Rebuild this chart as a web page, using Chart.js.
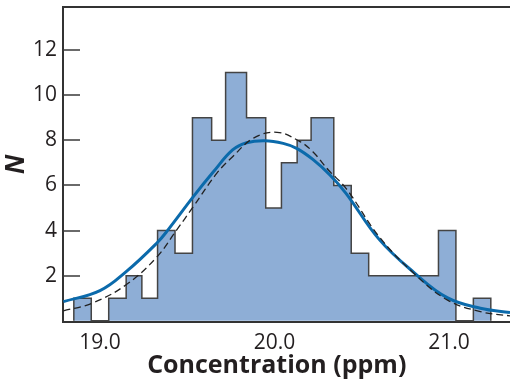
<!DOCTYPE html>
<html>
<head>
<meta charset="utf-8">
<script src="https://cdn.jsdelivr.net/npm/chart.js@4.4.0/dist/chart.umd.min.js"></script>
<style>
  html, body { margin: 0; padding: 0; background: #fff; }
</style>
</head>
<body>
<canvas id="chart" width="510" height="385"></canvas>
<script>
// Histogram: bin edges (ppm) and number of results in each bin
const binEdges = [18.85, 18.95, 19.05, 19.15, 19.24, 19.33, 19.43, 19.53, 19.64, 19.72, 19.84,
                  19.95, 20.04, 20.13, 20.21, 20.34, 20.44, 20.54, 20.94, 21.04, 21.14, 21.24];
const binCounts = [1, 0, 1, 2, 1, 4, 3, 9, 8, 11, 9, 5, 7, 8, 9, 6, 3, 2, 4, 0, 1];

// Solid blue curve
const fitX = [18.79, 19.0, 19.15, 19.325, 19.39, 19.535, 19.65, 19.76, 19.84, 19.945,
              20.05, 20.127, 20.22, 20.318, 20.41, 20.60, 20.80, 20.99, 21.18, 21.35];
const fitY = [0.85, 1.34, 2.18, 3.44, 4.03, 5.5, 6.6, 7.57, 7.89, 7.98,
              7.86, 7.64, 7.15, 6.46, 5.65, 3.61, 2.14, 1.03, 0.56, 0.37];

// Dashed black curve
const normX = [18.79, 18.96, 19.15, 19.325, 19.44, 19.535, 19.67, 19.76, 19.88, 20.015,
               20.146, 20.22, 20.309, 20.41, 20.60, 20.80, 20.99, 21.18, 21.35];
const normY = [0.44, 0.8, 1.6, 2.82, 4.03, 5.06, 6.54, 7.27, 8.09, 8.35,
               7.94, 7.49, 6.68, 5.87, 3.73, 2.1, 0.93, 0.41, 0.22];

// Tick labels
const xTicks = [19.0, 20.0, 21.0];
const yTicks = [2, 4, 6, 8, 10, 12];

const INK = "#231f20";
Chart.defaults.font.family = "'Open Sans', sans-serif";

// histogram outline as a stepped line: up at first edge, across each bin, down at last edge
const histPts = [{x: binEdges[0], y: 0}];
binCounts.forEach((c, i) => histPts.push({x: binEdges[i], y: c}));
histPts.push({x: binEdges[binEdges.length - 1], y: 0});

// inward tick marks on the y axis + top frame line
const frame = {
  id: "frame",
  afterDatasetsDraw(chart) {
    const {ctx, chartArea, scales} = chart;
    ctx.save();
    ctx.strokeStyle = "#3a3a3a";
    ctx.lineWidth = 1.5;
    ctx.beginPath();
    yTicks.forEach(v => {
      const y = Math.round(scales.y.getPixelForValue(v));
      ctx.moveTo(chartArea.left, y);
      ctx.lineTo(chartArea.left + 17, y);
    });
    ctx.stroke();
    ctx.lineWidth = 2;
    ctx.strokeStyle = "#333";
    ctx.beginPath();
    ctx.moveTo(chartArea.left, chartArea.top);
    ctx.lineTo(chartArea.right, chartArea.top);
    ctx.stroke();
    ctx.restore();
  }
};

const noPad = s => { s.paddingTop = 0; s.paddingBottom = 0; s.paddingLeft = 0; s.paddingRight = 0; };

new Chart(document.getElementById("chart"), {
  type: "line",
  data: {
    datasets: [
      {
        label: "normal",
        data: normX.map((x, i) => ({x, y: normY[i]})),
        borderColor: "#222",
        borderWidth: 1.3,
        borderDash: [7, 4],
        pointRadius: 0,
        tension: 0.4,
        order: 0
      },
      {
        label: "fit",
        data: fitX.map((x, i) => ({x, y: fitY[i]})),
        borderColor: "#0b6aab",
        borderWidth: 3,
        pointRadius: 0,
        tension: 0.4,
        order: 1
      },
      {
        label: "histogram",
        data: histPts,
        stepped: "before",
        borderColor: "#444",
        borderWidth: 1.5,
        backgroundColor: "#8eaed6",
        fill: "origin",
        pointRadius: 0,
        order: 2
      }
    ]
  },
  options: {
    responsive: false,
    animation: false,
    layout: {padding: {top: 7, right: 0, left: 0, bottom: 0}},
    plugins: {legend: {display: false}, tooltip: {enabled: false}},
    scales: {
      x: {
        type: "linear",
        min: 18.788,
        max: 21.35,
        afterBuildTicks: s => { s.ticks = xTicks.map(v => ({value: v})); },
        afterFit: s => { s.height = 63; noPad(s); },
        grid: {display: false, drawTicks: false},
        border: {display: true, color: "#333", width: 2},
        ticks: {
          color: INK,
          font: {size: 21},
          padding: 8,
          maxRotation: 0,
          callback: v => v.toFixed(1)
        },
        title: {
          display: true,
          text: "Concentration (ppm)   ",
          color: INK,
          font: {size: 25, weight: "bold"},
          padding: {top: 0, bottom: 4}
        }
      },
      y: {
        min: -0.05,
        max: 13.9,
        afterBuildTicks: s => { s.ticks = yTicks.map(v => ({value: v})); },
        afterFit: s => { s.width = 63; noPad(s); },
        grid: {display: false, drawTicks: false},
        border: {display: true, color: "#333", width: 2},
        ticks: {color: INK, font: {size: 21}, padding: 6},
        title: {
          display: true,
          text: "N",
          color: INK,
          font: {size: 26, weight: "bold", style: "italic"},
          padding: {top: 1, bottom: 0}
        }
      }
    }
  },
  plugins: [frame]
});
</script>
</body>
</html>
